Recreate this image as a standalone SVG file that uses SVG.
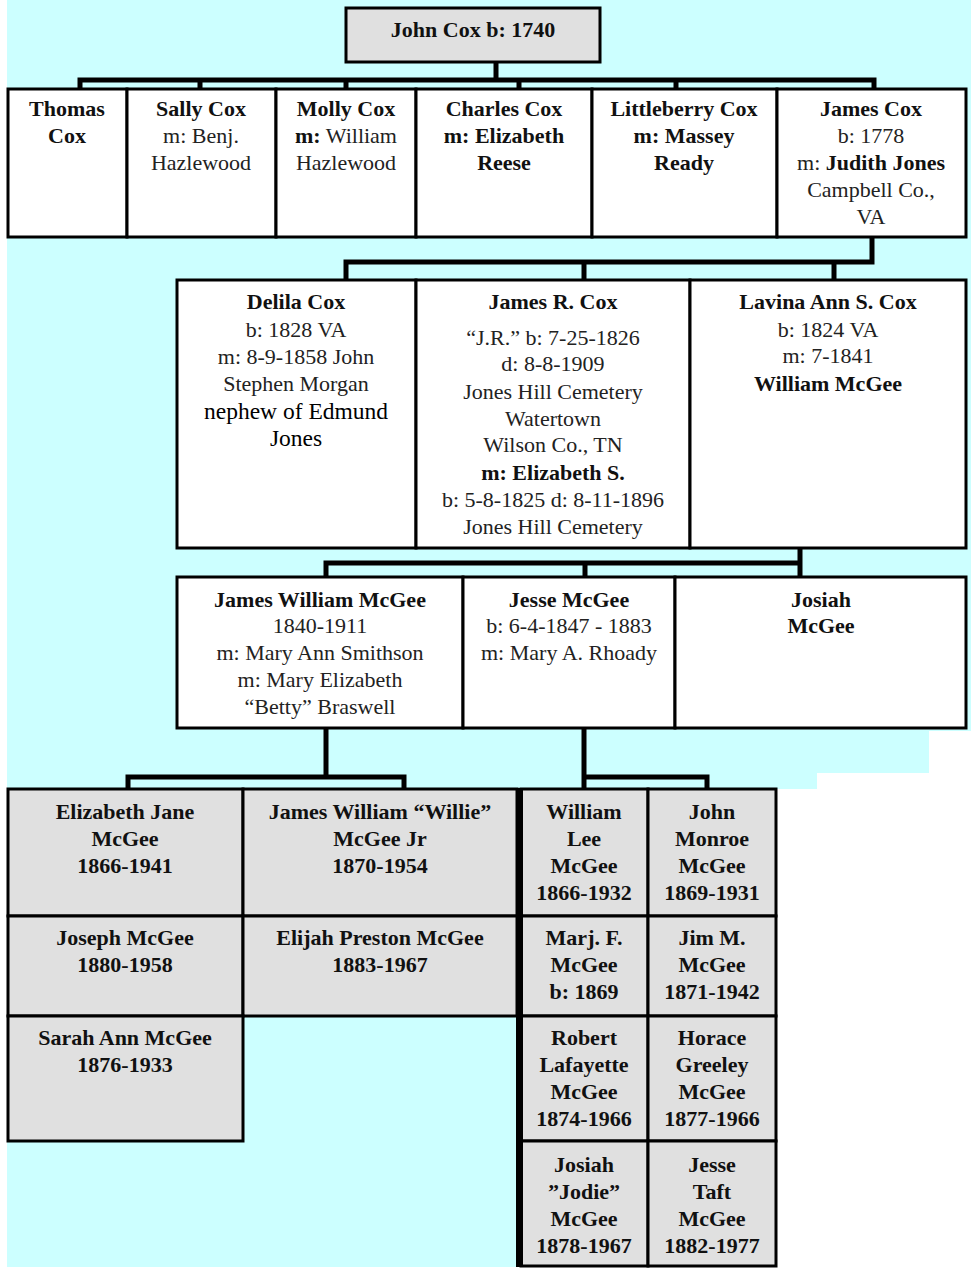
<svg xmlns="http://www.w3.org/2000/svg" width="971" height="1269" viewBox="0 0 971 1269">
<style>
.w{fill:#FFFFFF;stroke:#000;stroke-width:3}
.g{fill:#E0E0E0;stroke:#000;stroke-width:3}
text{font-family:"Liberation Serif","Times New Roman",serif;font-size:22px;text-anchor:middle;fill:#111}
.b{font-weight:bold}
.r{font-weight:normal;fill:#222}
.t{font-family:"Liberation Serif",serif;font-size:23.5px;fill:#000}
.c{fill:none;stroke:#000;stroke-width:5;stroke-linecap:square;stroke-linejoin:miter}
</style>
<rect x="0" y="0" width="971" height="1269" fill="#FFFFFF"/>
<path d="M7,0 H971 V731 H929 V773 H817 V789 H777 V1267 H7 Z" fill="#CCFFFF"/>

<g id="connectors">
  <path class="c" d="M496,63 V80 M80,88 V80 H874 V88 M200,80 V88 M346,80 V88 M519,80 V88 M676,80 V88"/>
  <path class="c" d="M872,238 V262 M346,280 V262 H872 M584,262 V280 M834,262 V280"/>
  <path class="c" d="M800,549 V577 M326,577 V563 H800 M585,563 V577"/>
  <path class="c" d="M326,729 V777 M128,789 V777 H404 V789"/>
  <path class="c" d="M584,729 V789 M584,777 H707 V789"/>
</g>

<g id="john-cox">
  <rect class="g" x="346" y="8" width="254" height="54"/>
  <text class="b" x="473" y="37">John Cox b: 1740</text>
</g>

<g id="thomas-cox">
  <rect class="w" x="8" y="89" width="119" height="148"/>
  <text class="b" x="67" y="116">Thomas</text>
  <text class="b" x="67" y="143">Cox</text>
</g>
<g id="sally-cox">
  <rect class="w" x="127" y="89" width="149" height="148"/>
  <text class="b" x="201" y="116">Sally Cox</text>
  <text class="r" x="201" y="143">m: Benj.</text>
  <text class="r" x="201" y="170">Hazlewood</text>
</g>
<g id="molly-cox">
  <rect class="w" x="276" y="89" width="140" height="148"/>
  <text class="b" x="346" y="116">Molly Cox</text>
  <text x="346" y="143"><tspan class="b">m:</tspan><tspan class="r"> William</tspan></text>
  <text class="r" x="346" y="170">Hazlewood</text>
</g>
<g id="charles-cox">
  <rect class="w" x="416" y="89" width="176" height="148"/>
  <text class="b" x="504" y="116">Charles Cox</text>
  <text class="b" x="504" y="143">m: Elizabeth</text>
  <text class="b" x="504" y="170">Reese</text>
</g>
<g id="littleberry-cox">
  <rect class="w" x="592" y="89" width="185" height="148"/>
  <text class="b" x="684" y="116">Littleberry Cox</text>
  <text class="b" x="684" y="143">m: Massey</text>
  <text class="b" x="684" y="170">Ready</text>
</g>
<g id="james-cox">
  <rect class="w" x="777" y="89" width="189" height="148"/>
  <text class="b" x="871" y="116">James Cox</text>
  <text class="r" x="871" y="143">b: 1778</text>
  <text x="871" y="170"><tspan class="r">m: </tspan><tspan class="b">Judith Jones</tspan></text>
  <text class="r" x="871" y="197">Campbell Co.,</text>
  <text class="r" x="871" y="224">VA</text>
</g>

<g id="delila-cox">
  <rect class="w" x="177" y="280" width="239" height="268"/>
  <text class="b" x="296" y="309">Delila Cox</text>
  <text class="r" x="296" y="337">b: 1828 VA</text>
  <text class="r" x="296" y="364">m: 8-9-1858 John</text>
  <text class="r" x="296" y="391">Stephen Morgan</text>
  <text class="t" x="296" y="419">nephew of Edmund</text>
  <text class="t" x="296" y="446">Jones</text>
</g>
<g id="james-r-cox">
  <rect class="w" x="416" y="280" width="274" height="268"/>
  <text class="b" x="553" y="309">James R. Cox</text>
  <text class="r" x="553" y="345">“J.R.” b: 7-25-1826</text>
  <text class="r" x="553" y="371">d: 8-8-1909</text>
  <text class="r" x="553" y="399">Jones Hill Cemetery</text>
  <text class="r" x="553" y="426">Watertown</text>
  <text class="r" x="553" y="452">Wilson Co., TN</text>
  <text class="b" x="553" y="480">m: Elizabeth S.</text>
  <text class="r" x="553" y="507">b: 5-8-1825 d: 8-11-1896</text>
  <text class="r" x="553" y="534">Jones Hill Cemetery</text>
</g>
<g id="lavina-cox">
  <rect class="w" x="690" y="280" width="276" height="268"/>
  <text class="b" x="828" y="309">Lavina Ann S. Cox</text>
  <text class="r" x="828" y="337">b: 1824 VA</text>
  <text class="r" x="828" y="363">m: 7-1841</text>
  <text class="b" x="828" y="391">William McGee</text>
</g>

<g id="james-william-mcgee">
  <rect class="w" x="177" y="577" width="286" height="151"/>
  <text class="b" x="320" y="607">James William McGee</text>
  <text class="r" x="320" y="633">1840-1911</text>
  <text class="r" x="320" y="660">m: Mary Ann Smithson</text>
  <text class="r" x="320" y="687">m: Mary Elizabeth</text>
  <text class="r" x="320" y="714">“Betty” Braswell</text>
</g>
<g id="jesse-mcgee">
  <rect class="w" x="463" y="577" width="212" height="151"/>
  <text class="b" x="569" y="607">Jesse McGee</text>
  <text class="r" x="569" y="633">b: 6-4-1847 - 1883</text>
  <text class="r" x="569" y="660">m: Mary A. Rhoady</text>
</g>
<g id="josiah-mcgee">
  <rect class="w" x="675" y="577" width="291" height="151"/>
  <text class="b" x="821" y="607">Josiah</text>
  <text class="b" x="821" y="633">McGee</text>
</g>

<g id="elizabeth-jane-mcgee">
  <rect class="g" x="8" y="789" width="235" height="127"/>
  <text class="b" x="125" y="819">Elizabeth Jane</text>
  <text class="b" x="125" y="846">McGee</text>
  <text class="b" x="125" y="873">1866-1941</text>
</g>
<g id="james-william-willie-mcgee">
  <rect class="g" x="243" y="789" width="274" height="127"/>
  <text class="b" x="380" y="819">James William “Willie”</text>
  <text class="b" x="380" y="846">McGee Jr</text>
  <text class="b" x="380" y="873">1870-1954</text>
</g>
<g id="joseph-mcgee">
  <rect class="g" x="8" y="916" width="235" height="100"/>
  <text class="b" x="125" y="945">Joseph McGee</text>
  <text class="b" x="125" y="972">1880-1958</text>
</g>
<g id="elijah-preston-mcgee">
  <rect class="g" x="243" y="916" width="274" height="100"/>
  <text class="b" x="380" y="945">Elijah Preston McGee</text>
  <text class="b" x="380" y="972">1883-1967</text>
</g>
<g id="sarah-ann-mcgee">
  <rect class="g" x="8" y="1016" width="235" height="125"/>
  <text class="b" x="125" y="1045">Sarah Ann McGee</text>
  <text class="b" x="125" y="1072">1876-1933</text>
</g>

<g id="william-lee-mcgee">
  <rect class="g" x="521" y="789" width="127" height="127"/>
  <text class="b" x="584" y="819">William</text>
  <text class="b" x="584" y="846">Lee</text>
  <text class="b" x="584" y="873">McGee</text>
  <text class="b" x="584" y="900">1866-1932</text>
</g>
<g id="john-monroe-mcgee">
  <rect class="g" x="648" y="789" width="128" height="127"/>
  <text class="b" x="712" y="819">John</text>
  <text class="b" x="712" y="846">Monroe</text>
  <text class="b" x="712" y="873">McGee</text>
  <text class="b" x="712" y="900">1869-1931</text>
</g>
<g id="marj-f-mcgee">
  <rect class="g" x="521" y="916" width="127" height="100"/>
  <text class="b" x="584" y="945">Marj. F.</text>
  <text class="b" x="584" y="972">McGee</text>
  <text class="b" x="584" y="999">b: 1869</text>
</g>
<g id="jim-m-mcgee">
  <rect class="g" x="648" y="916" width="128" height="100"/>
  <text class="b" x="712" y="945">Jim M.</text>
  <text class="b" x="712" y="972">McGee</text>
  <text class="b" x="712" y="999">1871-1942</text>
</g>
<g id="robert-lafayette-mcgee">
  <rect class="g" x="521" y="1016" width="127" height="125"/>
  <text class="b" x="584" y="1045">Robert</text>
  <text class="b" x="584" y="1072">Lafayette</text>
  <text class="b" x="584" y="1099">McGee</text>
  <text class="b" x="584" y="1126">1874-1966</text>
</g>
<g id="horace-greeley-mcgee">
  <rect class="g" x="648" y="1016" width="128" height="125"/>
  <text class="b" x="712" y="1045">Horace</text>
  <text class="b" x="712" y="1072">Greeley</text>
  <text class="b" x="712" y="1099">McGee</text>
  <text class="b" x="712" y="1126">1877-1966</text>
</g>
<g id="josiah-jodie-mcgee">
  <rect class="g" x="521" y="1141" width="127" height="125"/>
  <text class="b" x="584" y="1172">Josiah</text>
  <text class="b" x="584" y="1199">”Jodie”</text>
  <text class="b" x="584" y="1226">McGee</text>
  <text class="b" x="584" y="1253">1878-1967</text>
</g>
<g id="jesse-taft-mcgee">
  <rect class="g" x="648" y="1141" width="128" height="125"/>
  <text class="b" x="712" y="1172">Jesse</text>
  <text class="b" x="712" y="1199">Taft</text>
  <text class="b" x="712" y="1226">McGee</text>
  <text class="b" x="712" y="1253">1882-1977</text>
</g>
<line x1="519.5" y1="788" x2="519.5" y2="1267" stroke="#000" stroke-width="7"/>
</svg>
